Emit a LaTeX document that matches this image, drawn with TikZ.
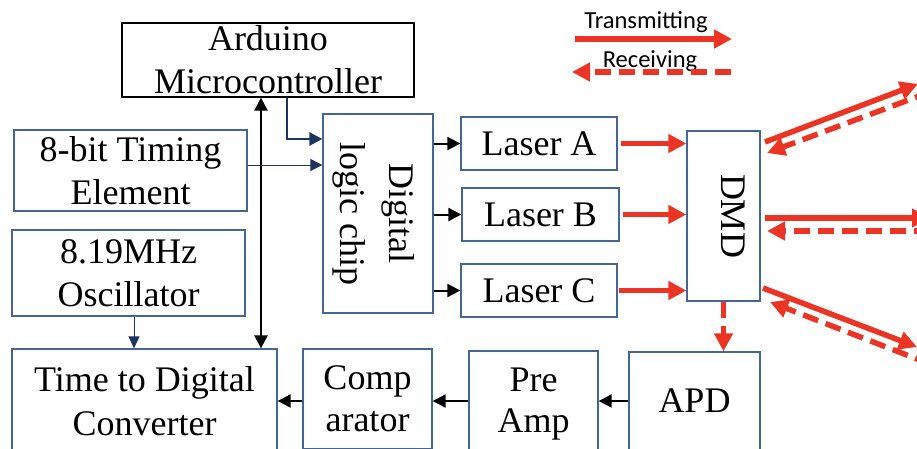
\documentclass[tikz,border=0pt]{standalone}
\usepackage{fontspec}
\setmainfont{Liberation Serif}
\newfontfamily\legendfont{Carlito}
\usetikzlibrary{arrows.meta}
\definecolor{boxblue}{RGB}{68,102,148}
\definecolor{navyc}{RGB}{28,52,98}
\definecolor{laserred}{RGB}{236,52,36}
\begin{document}
\begin{tikzpicture}[x=1pt,y=-1pt,
  box/.style={draw=boxblue,line width=1.3pt,inner sep=0pt,align=center,font=\fontsize{36}{43}\selectfont},
  blackbox/.style={box,draw=black},
  rottext/.style={rotate=-90,inner sep=0pt,align=center},
  blk/.style={draw=black,line width=2pt,-{Triangle[length=13pt,width=13pt]}},
  nv/.style={draw=navyc,line width=2.6pt,-{Triangle[length=13pt,width=13pt]}},
  nvthin/.style={draw=navyc,line width=1pt,-{Triangle[length=12pt,width=12pt]}},
  tx/.style={draw=laserred,line width=5.5pt,-{Triangle[length=18pt,width=18pt]}},
  rx/.style={tx,dash pattern=on 16pt off 8pt},
  legtext/.style={font=\legendfont\fontsize{24.5}{28}\selectfont,inner sep=0pt}
]
\useasboundingbox (0,0) rectangle (917,448);
\clip (0,0) rectangle (917,448);

% boxes
\node[blackbox,minimum width=292,minimum height=74] (ard) at (268,60) {Arduino\\Microcontroller};
\node[box,minimum width=233,minimum height=81] (timing) at (130.5,170.5) {8-bit Timing\\Element};
\node[box,minimum width=233,minimum height=86] (osc) at (128.5,273) {8.19MHz\\Oscillator};
\node[box,minimum width=265,minimum height=104,font=\fontsize{36}{44}\selectfont] (tdc) at (144.5,401) {Time to Digital\\Converter};
\node[box,minimum width=110,minimum height=199] (chip) at (378,213.5) {};
\node[xshift=-4pt,rottext,font=\fontsize{36}{49}\selectfont] (chiptext) at (chip.center) {Digital\\logic chip};
\node[box,minimum width=156,minimum height=53] (lasA) at (539,143.5) {Laser A};
\node[box,minimum width=157,minimum height=53] (lasB) at (540.5,214.5) {Laser B};
\node[box,minimum width=156,minimum height=53] (lasC) at (539,290.5) {Laser C};
\node[box,minimum width=73,minimum height=170] (dmd) at (723.5,216) {};
\node[xshift=10pt,rottext,font=\fontsize{36}{43}\selectfont] (dmdtext) at (dmd.center) {DMD};
\node[box,minimum width=131,minimum height=98] (apd) at (694.5,401) {APD};
\node[box,minimum width=129,minimum height=106,font=\fontsize{36}{41}\selectfont] (pre) at (533.5,404) {Pre\\Amp};
\node[box,minimum width=129,minimum height=100,font=\fontsize{36}{42}\selectfont] (comp) at (367.5,399) {Comp\\arator};

% helper coordinates
\coordinate (vx) at (261,0);
\coordinate (ax) at (287,0);
\coordinate (ay) at (0,139);
\coordinate (ty) at (0,165);
\coordinate (ox) at (134,0);
\coordinate (by) at (0,401);

% black / navy connectors
\draw[blk,{Triangle[length=13pt,width=13pt]}-{Triangle[length=13pt,width=13pt]},line width=2.4pt] (vx |- ard.south) -- (vx |- tdc.north);
\draw[nv] (ax |- ard.south) |- (ay -| chip.west);
\draw[nvthin] (timing.east |- ty) -- (chip.west |- ty);
\draw[nvthin,-{Triangle[length=12pt,width=11pt]}] (ox |- osc.south) -- (ox |- tdc.north);
\draw[blk] (chip.east |- lasA) -- (lasA.west);
\draw[blk] (chip.east |- lasB) -- (lasB.west);
\draw[blk] (chip.east |- lasC) -- (lasC.west);
\draw[blk] (apd.west |- by) -- (pre.east |- by);
\draw[blk] (pre.west |- by) -- (comp.east |- by);
\draw[blk] (comp.west |- by) -- (tdc.east |- by);

% red laser paths
\draw[tx,shorten <=3pt] (lasA.east) -- (lasA.east -| dmd.west);
\draw[tx,shorten <=3pt] (lasB.east) -- (lasB.east -| dmd.west);
\draw[tx,shorten <=1pt] (lasC.east) -- (lasC.east -| dmd.west);
\draw[rx] (dmd.south) -- (dmd.south |- apd.north);

% rays to/from scene
\coordinate (s1a) at (765,142); \coordinate (s1b) at (918,84);
\coordinate (d1a) at (930,92);  \coordinate (d1b) at (767,153);
\coordinate (s2a) at (765,218); \coordinate (s2b) at (930,218);
\coordinate (d2a) at (930,231); \coordinate (d2b) at (767,231);
\coordinate (s3a) at (763,288); \coordinate (s3b) at (917,347);
\coordinate (d3a) at (930,364); \coordinate (d3b) at (770,302);
\draw[tx] (s1a) -- (s1b);
\draw[rx] (d1a) -- (d1b);
\draw[tx] (s2a) -- (s2b);
\draw[rx] (d2a) -- (d2b);
\draw[tx] (s3a) -- (s3b);
\draw[rx] (d3a) -- (d3b);

% legend
\node[legtext] (ltx) at (646,22) {Transmitting};
\node[legtext] (lrx) at (650,61) {Receiving};
\coordinate (lt1) at (575,39); \coordinate (lt2) at (732,39);
\coordinate (lr1) at (731,72); \coordinate (lr2) at (572,72);
\draw[tx,-{Triangle[length=18pt,width=18pt]}] (lt1) -- (lt2);
\draw[rx,-{Triangle[length=18pt,width=18pt]}] (lr1) -- (lr2);
\end{tikzpicture}
\end{document}
